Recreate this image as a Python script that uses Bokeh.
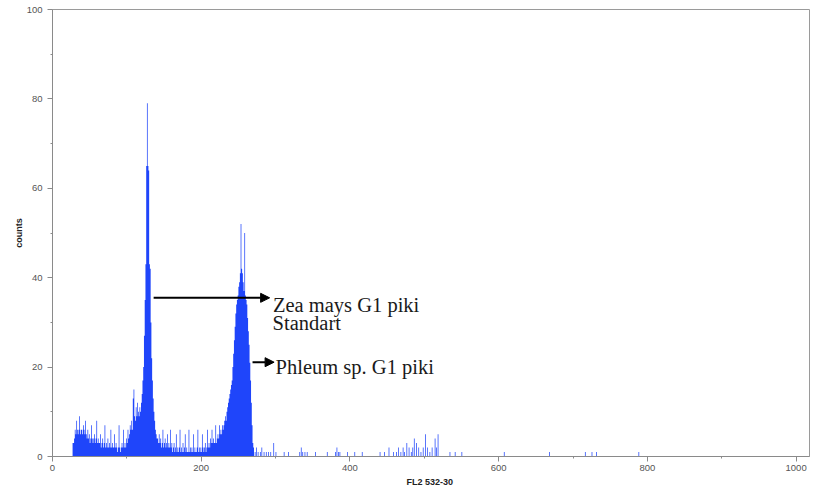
from bokeh.plotting import figure
from bokeh.models import ColumnDataSource, FixedTicker, Range1d, Arrow, NormalHead, Label
from bokeh.embed import file_html
from bokeh.resources import INLINE

# ---- histogram data (FL2 channel -> counts) ----
noise_start = 27
noise_counts = [3, 3, 4, 6, 5, 8, 6, 5, 6, 9,
                5, 6, 6, 5, 7, 6, 5, 8, 5, 4,
                6, 4, 5, 3, 4, 7, 4, 3, 4, 5,
                3, 4, 8, 3, 4, 3, 3, 5, 2, 3,
                4, 2, 3, 7, 2, 3, 2, 4, 2, 3,
                2, 6, 2, 3, 2, 2, 5, 2, 3, 2,
                1, 2, 7, 2, 1, 2, 3, 2, 6, 2,
                3, 2, 4, 3, 6, 4, 5, 7, 6,
                8, 6, 13, 15, 9, 8, 11, 9, 12, 10, 9, 11]

peak1_start = 118
peak1_counts = [10, 12, 14, 17, 20, 27, 35, 43, 65, 79, 65, 64, 43, 42, 30, 22, 17, 13, 10, 8, 6, 5, 4]

valley_start = 141
valley_counts = [4, 3, 5, 3, 4, 2, 3, 6, 2, 3,
                 4, 2, 3, 5, 2, 3, 2, 6, 2, 3,
                 1, 2, 3, 1, 2, 5, 1, 2, 1, 2,
                 6, 1, 2, 1, 3, 1, 2, 5, 1, 2,
                 1, 1, 6, 1, 2, 1, 2, 1, 5, 1,
                 2, 1, 1, 2, 6, 1, 2, 1, 2, 1,
                 5, 2, 1, 2, 3, 1, 2, 6, 2, 3,
                 2, 4, 3, 6, 3, 4, 3, 3, 7, 3,
                 4, 5, 4, 7, 5, 6, 5, 7, 6]

peak2_start = 230
peak2_counts = [7, 8, 9, 8, 10, 11, 12, 13, 14, 15,
                16, 17, 20, 23, 26, 29, 32, 34, 35, 36,
                38, 39, 41, 52, 42, 41, 39, 37, 50, 36,
                35, 34, 31, 28, 25, 21, 17, 12, 7, 3, 2]

sparse_channels = [272, 274, 276, 279, 281, 284, 287, 290, 293, 297, 300, 311, 317,
                   332, 334, 336, 339, 342, 353, 369, 380, 382, 384, 386, 396, 406, 416,
                   440, 446, 452, 458, 462, 465, 468, 471, 473, 476, 479, 482, 484, 486,
                   489, 492, 495, 498, 501, 504, 507, 510, 514, 516, 518, 534, 541, 550,
                   607, 668, 716, 725, 731, 788]
sparse_counts = [1, 2, 1, 1, 2, 1, 1, 1, 1, 3, 1, 1, 1,
                 1, 2, 1, 1, 1, 1, 1, 1, 2, 1, 1, 1, 1, 1,
                 1, 1, 2, 1, 1, 2, 1, 2, 1, 3, 2, 1, 2, 4,
                 3, 2, 1, 2, 5, 2, 1, 2, 4, 2, 5, 1, 1, 1,
                 1, 1, 1, 1, 1, 1]

n_channels = 1024
x_ticks = [0, 200, 400, 600, 800, 1000]
x_minor = [100, 300, 500, 700, 900]
y_ticks = [0, 20, 40, 60, 80, 100]
y_minor = [10, 30, 50, 70, 90]

# ---- assemble full channel array ----
counts = [0] * (n_channels + 1)
for start, vals in [(noise_start, noise_counts), (peak1_start, peak1_counts),
                    (valley_start, valley_counts), (peak2_start, peak2_counts)]:
    for i, v in enumerate(vals):
        counts[start + i] = v
for c, v in zip(sparse_channels, sparse_counts):
    counts[c] = v

src = ColumnDataSource(dict(x=list(range(n_channels + 1)), y2=counts,
                            y1=[0] * (n_channels + 1)))

p = figure(width=811, height=489, x_range=Range1d(0, 1018), y_range=Range1d(0, 100),
           output_backend="svg", toolbar_location=None,
           min_border_left=52, min_border_right=2, min_border_top=9, min_border_bottom=28)

p.varea_step(x="x", y1="y1", y2="y2", step_mode="after", source=src,
             fill_color="#1f45fa")

p.xgrid.visible = False
p.ygrid.visible = False
p.outline_line_color = "#9a9a9a"
p.outline_line_width = 1

for ax in (p.xaxis[0], p.yaxis[0]):
    ax.axis_line_color = "#8a8a8a"
    ax.major_tick_line_color = "#8a8a8a"
    ax.minor_tick_line_color = "#8a8a8a"
    ax.major_tick_out = 5
    ax.major_tick_in = 0
    ax.minor_tick_out = 2
    ax.minor_tick_in = 0
    ax.major_label_text_font = "Liberation Sans"
    ax.major_label_text_font_size = "9.5px"
    ax.major_label_text_color = "#555555"
    ax.axis_label_text_font = "Liberation Sans"
    ax.axis_label_text_font_size = "9px"
    ax.axis_label_text_font_style = "bold"
    ax.axis_label_text_color = "#222222"

p.xaxis[0].ticker = FixedTicker(ticks=x_ticks, minor_ticks=x_minor)
p.yaxis[0].ticker = FixedTicker(ticks=y_ticks, minor_ticks=y_minor)
p.xaxis[0].axis_label = "FL2  532-30"
p.yaxis[0].axis_label = "counts"
p.xaxis[0].major_label_standoff = 3
p.xaxis[0].axis_label_standoff = 3
p.yaxis[0].major_label_standoff = 5
p.yaxis[0].axis_label_standoff = 0

# ---- annotations ----
p.add_layout(Arrow(end=NormalHead(size=9, fill_color="black", line_color="black"),
                   x_start=136, y_start=35.5, x_end=292, y_end=35.5,
                   line_color="black", line_width=2))
p.add_layout(Arrow(end=NormalHead(size=9, fill_color="black", line_color="black"),
                   x_start=269, y_start=21.1, x_end=298, y_end=21.1,
                   line_color="black", line_width=2))

for txt, x, y in [("Zea mays G1 piki", 296.5, 34.0), ("Standart", 296, 29.8),
                  ("Phleum sp. G1 piki", 300, 20.0)]:
    p.add_layout(Label(x=x, y=y, text=txt, text_font="Liberation Serif",
                       text_font_size="20.5px", text_color="#1a1a1a",
                       text_baseline="alphabetic", text_align="left"))

open("out.html", "w").write(file_html(p, INLINE))
